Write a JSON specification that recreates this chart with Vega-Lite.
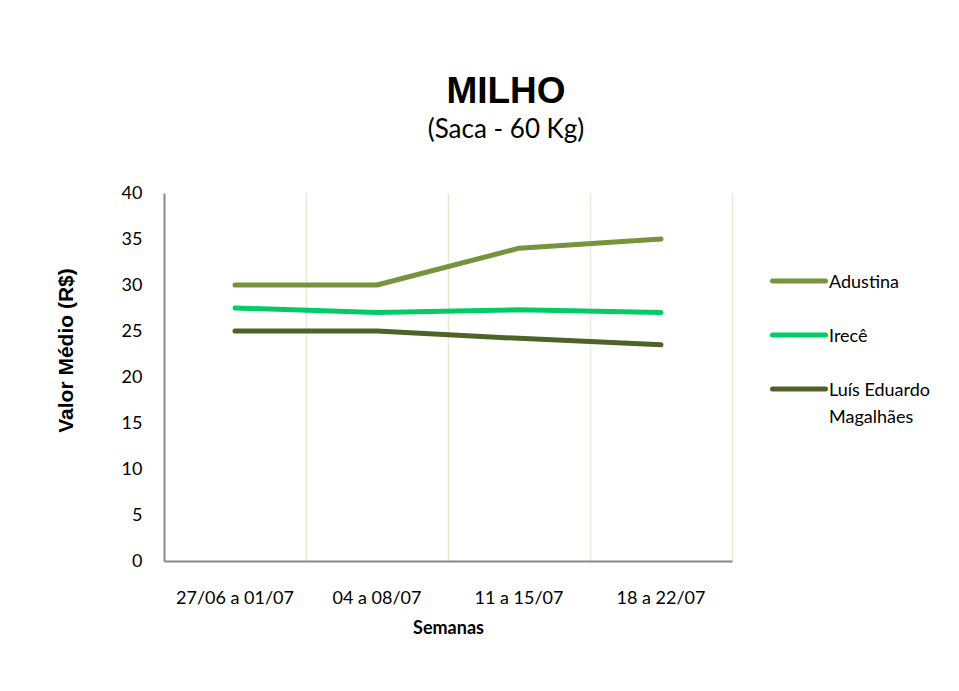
{
  "$schema": "https://vega.github.io/schema/vega-lite/v6.json",
  "width": 568,
  "height": 368,
  "autosize": "none",
  "padding": {"left": 164, "top": 193, "right": 227, "bottom": 130},
  "background": "white",
  "title": {
    "text": "MILHO",
    "subtitle": "(Saca - 60 Kg)",
    "font": "Liberation Sans",
    "fontSize": 37,
    "fontWeight": "bold",
    "color": "black",
    "subtitleFont": "Lato",
    "subtitleFontSize": 26,
    "subtitleColor": "black",
    "subtitlePadding": 6,
    "anchor": "middle",
    "dx": 58,
    "offset": 40
  },
  "data": {
    "values": [
      {"semana": "27/06 a 01/07", "local": "Adustina", "valor": 30},
      {"semana": "04 a 08/07", "local": "Adustina", "valor": 30},
      {"semana": "11 a 15/07", "local": "Adustina", "valor": 34},
      {"semana": "18 a 22/07", "local": "Adustina", "valor": 35},
      {"semana": "27/06 a 01/07", "local": "Irecê", "valor": 27.5},
      {"semana": "04 a 08/07", "local": "Irecê", "valor": 27},
      {"semana": "11 a 15/07", "local": "Irecê", "valor": 27.3},
      {"semana": "18 a 22/07", "local": "Irecê", "valor": 27},
      {"semana": "27/06 a 01/07", "local": "Luís Eduardo Magalhães", "valor": 25},
      {"semana": "04 a 08/07", "local": "Luís Eduardo Magalhães", "valor": 25},
      {"semana": "11 a 15/07", "local": "Luís Eduardo Magalhães", "valor": 24.2},
      {"semana": "18 a 22/07", "local": "Luís Eduardo Magalhães", "valor": 23.5}
    ]
  },
  "mark": {"type": "line", "strokeWidth": 5, "strokeCap": "round", "strokeJoin": "round"},
  "encoding": {
    "x": {
      "field": "semana",
      "type": "nominal",
      "sort": ["27/06 a 01/07", "04 a 08/07", "11 a 15/07", "18 a 22/07"],
      "scale": {"type": "band", "paddingInner": 0, "paddingOuter": 0},
      "axis": {
        "title": "Semanas",
        "titleFont": "Lato",
        "titleFontSize": 18,
        "titleFontWeight": "bold",
        "titleColor": "black",
        "titlePadding": 12,
        "labelFont": "Lato",
        "labelFontSize": 18,
        "labelColor": "black",
        "labelAngle": 0,
        "labelPadding": 28,
        "ticks": false,
        "tickSize": 0,
        "bandPosition": 1,
        "grid": true,
        "gridColor": "#E8EAD6",
        "gridWidth": 1.5,
        "domainColor": "#888888",
        "domainWidth": 2
      }
    },
    "y": {
      "field": "valor",
      "type": "quantitative",
      "scale": {"domain": [0, 40], "nice": false},
      "axis": {
        "title": "Valor Médio (R$)",
        "titleFont": "Liberation Sans",
        "titleFontSize": 21,
        "titleFontWeight": "bold",
        "titleColor": "black",
        "titleX": -92,
        "titleY": 157,
        "titleBaseline": "alphabetic",
        "values": [0, 5, 10, 15, 20, 25, 30, 35, 40],
        "labelFont": "Lato",
        "labelFontSize": 18,
        "labelColor": "black",
        "labelPadding": 22,
        "ticks": false,
        "tickSize": 0,
        "grid": false,
        "domainColor": "#888888",
        "domainWidth": 2
      }
    },
    "color": {
      "field": "local",
      "type": "nominal",
      "scale": {
        "domain": ["Adustina", "Irecê", "Luís Eduardo Magalhães"],
        "range": ["#77933C", "#00CC66", "#4F6228"]
      },
      "legend": {
        "title": null,
        "orient": "none",
        "legendX": 606,
        "legendY": 59,
        "padding": 0,
        "symbolType": "stroke",
        "symbolSize": 2809,
        "symbolStrokeWidth": 5,
        "rowPadding": 14,
        "labelFont": "Lato",
        "labelFontSize": 18,
        "labelColor": "black",
        "labelLimit": 0,
        "labelOffset": 1,
        "labelBaseline": "alphabetic",
        "labelExpr": "datum.label == 'Luís Eduardo Magalhães' ? ['Luís Eduardo', 'Magalhães'] : datum.label",
        "encode": {
          "labels": {"update": {"dy": {"value": 7}, "lineHeight": {"value": 27}}},
          "symbols": {"update": {"strokeCap": {"value": "round"}}}
        }
      }
    }
  },
  "config": {"view": {"stroke": null}}
}
